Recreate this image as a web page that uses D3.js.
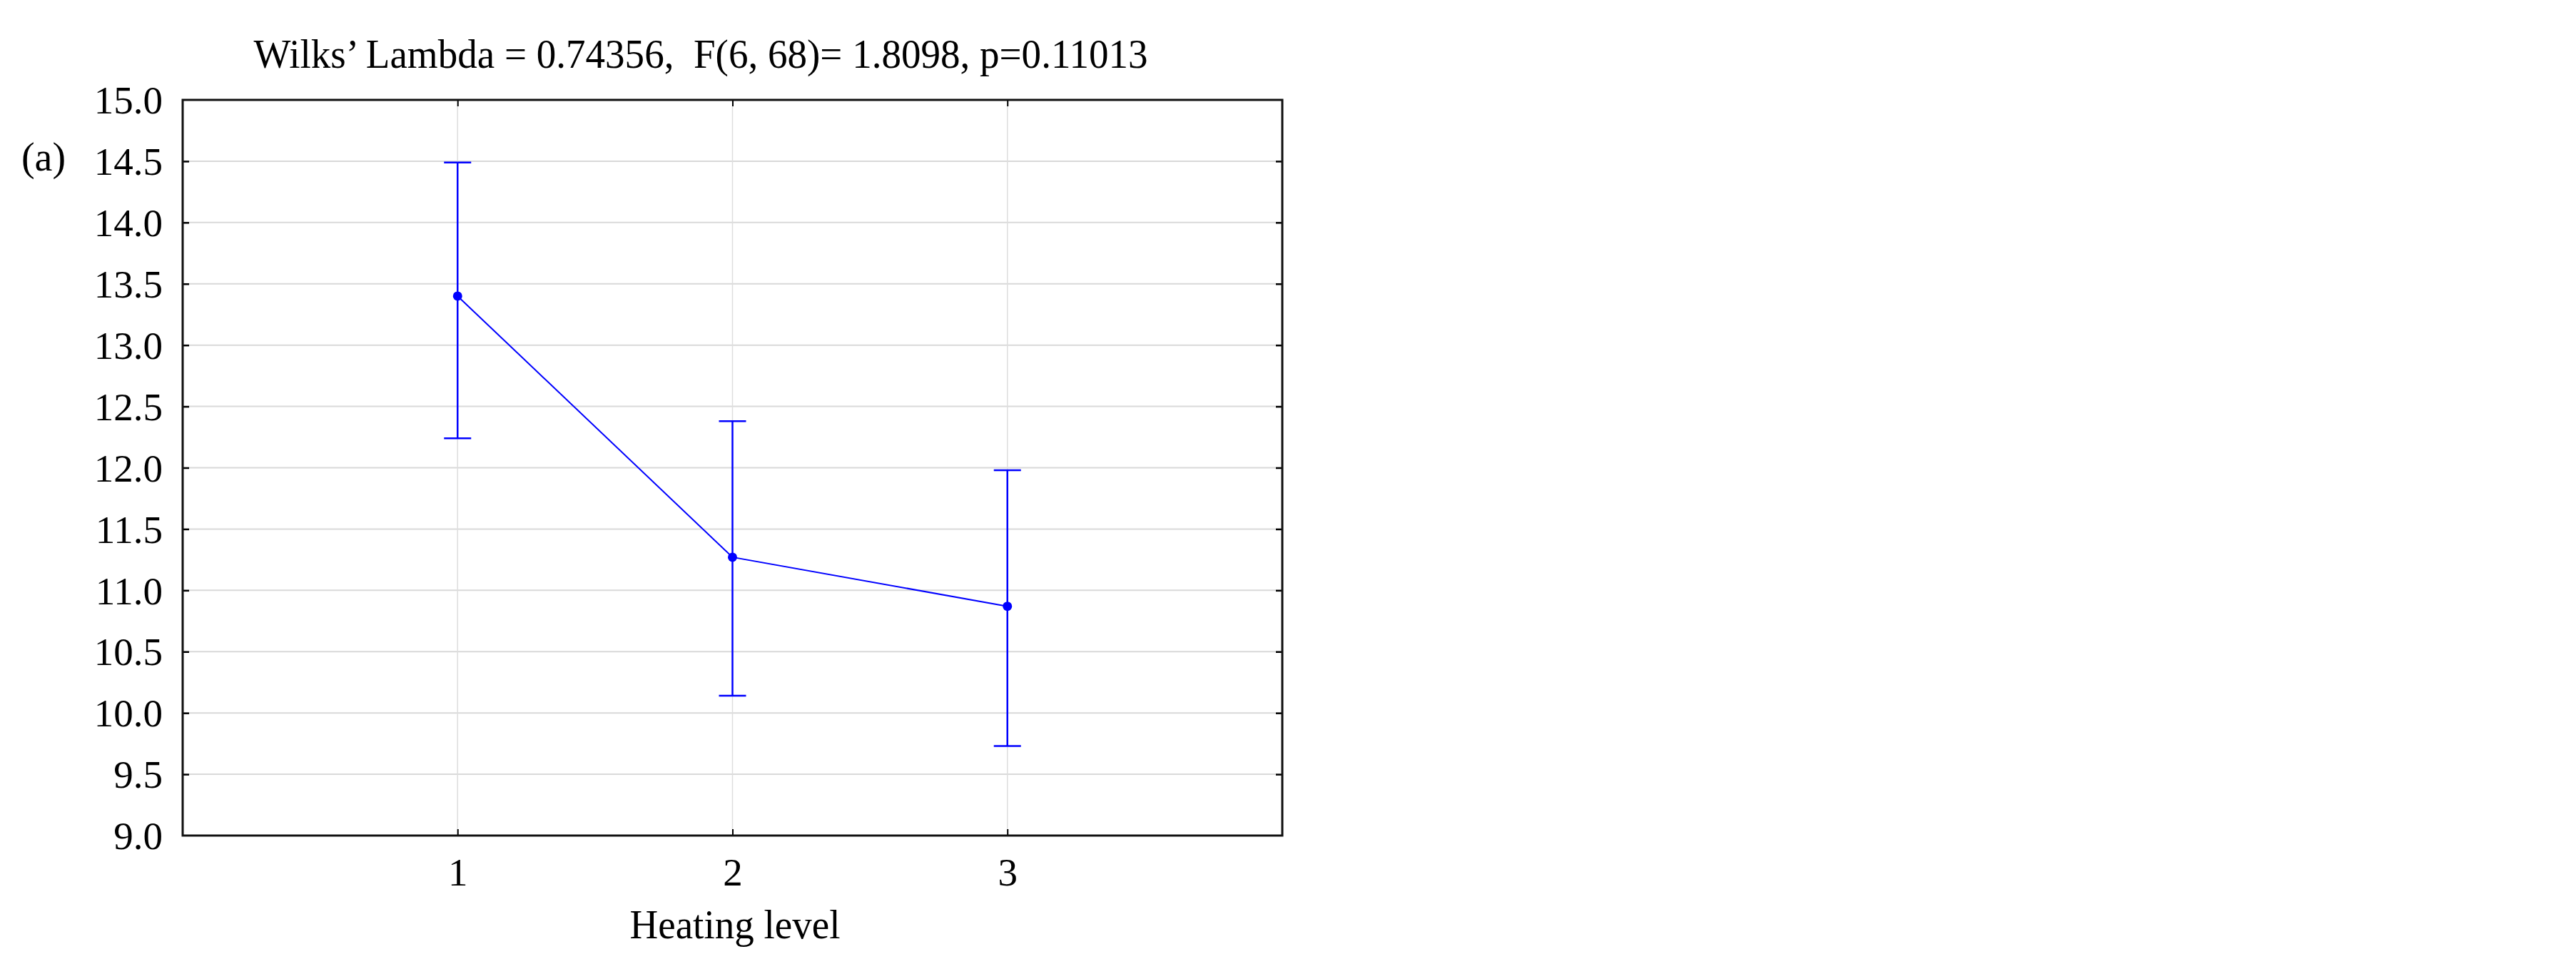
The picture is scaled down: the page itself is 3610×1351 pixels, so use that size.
<!DOCTYPE html>
<html>
<head>
<meta charset="utf-8">
<script src="https://cdn.jsdelivr.net/npm/d3@7"></script>
<style>
  html, body { margin: 0; padding: 0; background: #ffffff; }
  svg { display: block; }
  text { font-family: "Liberation Serif", "Times New Roman", serif; fill: #000; }
</style>
</head>
<body>
<svg id="chart" width="3610" height="1351"></svg>
<script>
// ---- data ----
const categories = [1, 2, 3];
const means = [13.40, 11.27, 10.87];
const upper = [14.49, 12.38, 11.98];
const lower = [12.24, 10.14, 9.73];
const yTicks = [9.0, 9.5, 10.0, 10.5, 11.0, 11.5, 12.0, 12.5, 13.0, 13.5, 14.0, 14.5, 15.0];
const xTicks = [1, 2, 3];
const titleText = "Wilks\u2019 Lambda = 0.74356,  F(6, 68)= 1.8098, p=0.11013";
const xLabel = "Heating level";
const panelLabel = "(a)";

// ---- layout ----
const svg = d3.select("#chart");
const margin = { left: 256, right: 3610 - 1797, top: 140, bottom: 1351 - 1171 };
const W = 3610, H = 1351;
const x = d3.scaleLinear().domain([0, 4]).range([margin.left, W - margin.right]);
const y = d3.scaleLinear().domain([9, 15]).range([H - margin.bottom, margin.top]);

const blue = "#0000ff";
const fs = 55;

// gridlines
const g = svg.append("g");
g.selectAll("line.hg").data(yTicks.filter(v => v > 9 && v < 15)).enter().append("line")
  .attr("x1", x(0)).attr("x2", x(4))
  .attr("y1", d => y(d)).attr("y2", d => y(d))
  .attr("stroke", "#d9d9d9").attr("stroke-width", 2);
g.selectAll("line.vg").data(xTicks).enter().append("line")
  .attr("x1", d => x(d)).attr("x2", d => x(d))
  .attr("y1", y(15)).attr("y2", y(9))
  .attr("stroke", "#dedede").attr("stroke-width", 1.5);

// axes with inward ticks
const tickLen = 9;
const yAxisL = d3.axisLeft(y).tickValues(yTicks).tickSize(-tickLen).tickPadding(19 + tickLen)
  .tickFormat(d3.format(".1f"));
const gy = svg.append("g").attr("transform", `translate(${x(0)},0)`).call(yAxisL);
gy.select(".domain").remove();
gy.selectAll(".tick line").attr("stroke", "#000").attr("stroke-width", 2.5);
gy.selectAll(".tick text").attr("font-size", fs).attr("font-family", "Liberation Serif")
  .attr("dy", "0.34em");
gy.selectAll(".tick").filter(d => d === 9 || d === 15).select("line").remove();

const yAxisR = d3.axisRight(y).tickValues(yTicks.filter(v => v > 9 && v < 15)).tickSize(-tickLen).tickFormat("");
const gyr = svg.append("g").attr("transform", `translate(${x(4)},0)`).call(yAxisR);
gyr.select(".domain").remove();
gyr.selectAll(".tick line").attr("stroke", "#000").attr("stroke-width", 2.5);

const xAxisB = d3.axisBottom(x).tickValues(xTicks).tickSize(-tickLen).tickPadding(22 + tickLen)
  .tickFormat(d3.format("d"));
const gx = svg.append("g").attr("transform", `translate(0,${y(9)})`).call(xAxisB);
gx.select(".domain").remove();
gx.selectAll(".tick line").attr("stroke", "#000").attr("stroke-width", 2);
gx.selectAll(".tick text").attr("font-size", fs).attr("font-family", "Liberation Serif");

const xAxisT = d3.axisTop(x).tickValues(xTicks).tickSize(-tickLen).tickFormat("");
const gxt = svg.append("g").attr("transform", `translate(0,${y(15)})`).call(xAxisT);
gxt.select(".domain").remove();
gxt.selectAll(".tick line").attr("stroke", "#000").attr("stroke-width", 2);

// frame
svg.append("rect")
  .attr("x", x(0)).attr("y", y(15))
  .attr("width", x(4) - x(0)).attr("height", y(9) - y(15))
  .attr("fill", "none").attr("stroke", "#111").attr("stroke-width", 3);

// data
const pts = categories.map((c, i) => ({ c, m: means[i], u: upper[i], l: lower[i] }));
const capHalf = 19;
const eb = svg.append("g");
eb.selectAll("line.bar").data(pts).enter().append("line")
  .attr("x1", d => x(d.c)).attr("x2", d => x(d.c))
  .attr("y1", d => y(d.u)).attr("y2", d => y(d.l))
  .attr("stroke", blue).attr("stroke-width", 2.5);
eb.selectAll("line.capu").data(pts).enter().append("line")
  .attr("x1", d => x(d.c) - capHalf).attr("x2", d => x(d.c) + capHalf)
  .attr("y1", d => y(d.u)).attr("y2", d => y(d.u))
  .attr("stroke", blue).attr("stroke-width", 2.5);
eb.selectAll("line.capl").data(pts).enter().append("line")
  .attr("x1", d => x(d.c) - capHalf).attr("x2", d => x(d.c) + capHalf)
  .attr("y1", d => y(d.l)).attr("y2", d => y(d.l))
  .attr("stroke", blue).attr("stroke-width", 2.5);

svg.append("path").datum(pts)
  .attr("d", d3.line().x(d => x(d.c)).y(d => y(d.m)))
  .attr("fill", "none").attr("stroke", blue).attr("stroke-width", 2);

svg.selectAll("circle.pt").data(pts).enter().append("circle")
  .attr("cx", d => x(d.c)).attr("cy", d => y(d.m)).attr("r", 6.5)
  .attr("fill", blue);

// texts
svg.append("text").attr("x", 982).attr("y", 95)
  .attr("text-anchor", "middle").attr("font-size", 57)
  .attr("xml:space", "preserve").style("white-space", "pre")
  .attr("textLength", 1253).attr("lengthAdjust", "spacingAndGlyphs")
  .text(titleText);
svg.append("text").attr("x", 1030).attr("y", 1315)
  .attr("text-anchor", "middle").attr("font-size", 57)
  .attr("textLength", 295).attr("lengthAdjust", "spacingAndGlyphs")
  .text(xLabel);
svg.append("text").attr("x", 61).attr("y", 239)
  .attr("text-anchor", "middle").attr("font-size", 56).text(panelLabel);
</script>
</body>
</html>
